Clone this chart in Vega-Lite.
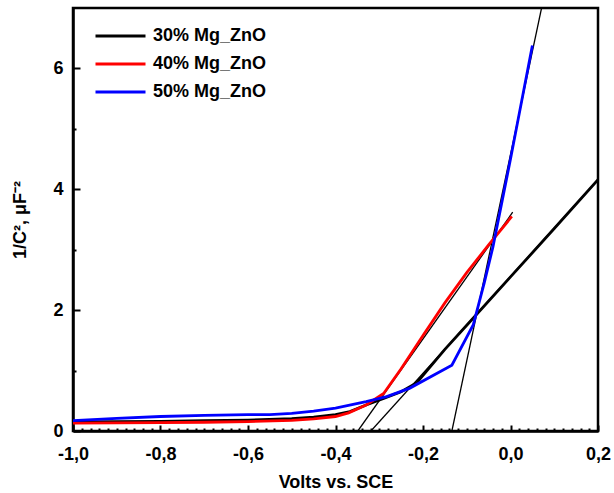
{
  "$schema": "https://vega.github.io/schema/vega-lite/v6.json",
  "width": 525,
  "height": 423,
  "autosize": {"type": "none"},
  "padding": {"left": 73, "top": 8, "right": 16, "bottom": 62},
  "background": "white",
  "config": {
    "view": {"stroke": "black", "strokeWidth": 2.5},
    "font": "Liberation Sans"
  },
  "datasets": {
    "curves": [
      {"s": "30% Mg_ZnO", "x": -1.0, "y": 0.15},
      {"s": "30% Mg_ZnO", "x": -0.9, "y": 0.155},
      {"s": "30% Mg_ZnO", "x": -0.8, "y": 0.16},
      {"s": "30% Mg_ZnO", "x": -0.7, "y": 0.17},
      {"s": "30% Mg_ZnO", "x": -0.6, "y": 0.18},
      {"s": "30% Mg_ZnO", "x": -0.5, "y": 0.205},
      {"s": "30% Mg_ZnO", "x": -0.45, "y": 0.23},
      {"s": "30% Mg_ZnO", "x": -0.4, "y": 0.27},
      {"s": "30% Mg_ZnO", "x": -0.367, "y": 0.32},
      {"s": "30% Mg_ZnO", "x": -0.33, "y": 0.43},
      {"s": "30% Mg_ZnO", "x": -0.29, "y": 0.54},
      {"s": "30% Mg_ZnO", "x": -0.25, "y": 0.65},
      {"s": "30% Mg_ZnO", "x": -0.214, "y": 0.8},
      {"s": "30% Mg_ZnO", "x": -0.15, "y": 1.35},
      {"s": "30% Mg_ZnO", "x": -0.1, "y": 1.75},
      {"s": "30% Mg_ZnO", "x": 0.0, "y": 2.55},
      {"s": "30% Mg_ZnO", "x": 0.1, "y": 3.35},
      {"s": "30% Mg_ZnO", "x": 0.2, "y": 4.16},
      {"s": "40% Mg_ZnO", "x": -1.0, "y": 0.13},
      {"s": "40% Mg_ZnO", "x": -0.9, "y": 0.135},
      {"s": "40% Mg_ZnO", "x": -0.8, "y": 0.14},
      {"s": "40% Mg_ZnO", "x": -0.7, "y": 0.145},
      {"s": "40% Mg_ZnO", "x": -0.6, "y": 0.155},
      {"s": "40% Mg_ZnO", "x": -0.5, "y": 0.175},
      {"s": "40% Mg_ZnO", "x": -0.45, "y": 0.2},
      {"s": "40% Mg_ZnO", "x": -0.4, "y": 0.24},
      {"s": "40% Mg_ZnO", "x": -0.37, "y": 0.3},
      {"s": "40% Mg_ZnO", "x": -0.33, "y": 0.43},
      {"s": "40% Mg_ZnO", "x": -0.29, "y": 0.62},
      {"s": "40% Mg_ZnO", "x": -0.25, "y": 1.03},
      {"s": "40% Mg_ZnO", "x": -0.2, "y": 1.58},
      {"s": "40% Mg_ZnO", "x": -0.15, "y": 2.12},
      {"s": "40% Mg_ZnO", "x": -0.1, "y": 2.62},
      {"s": "40% Mg_ZnO", "x": -0.05, "y": 3.08},
      {"s": "40% Mg_ZnO", "x": 0.003, "y": 3.55},
      {"s": "50% Mg_ZnO", "x": -1.0, "y": 0.17},
      {"s": "50% Mg_ZnO", "x": -0.9, "y": 0.21},
      {"s": "50% Mg_ZnO", "x": -0.8, "y": 0.24},
      {"s": "50% Mg_ZnO", "x": -0.7, "y": 0.26},
      {"s": "50% Mg_ZnO", "x": -0.6, "y": 0.27},
      {"s": "50% Mg_ZnO", "x": -0.55, "y": 0.27},
      {"s": "50% Mg_ZnO", "x": -0.5, "y": 0.29},
      {"s": "50% Mg_ZnO", "x": -0.45, "y": 0.33},
      {"s": "50% Mg_ZnO", "x": -0.4, "y": 0.38},
      {"s": "50% Mg_ZnO", "x": -0.33, "y": 0.485},
      {"s": "50% Mg_ZnO", "x": -0.283, "y": 0.57},
      {"s": "50% Mg_ZnO", "x": -0.23, "y": 0.71},
      {"s": "50% Mg_ZnO", "x": -0.134, "y": 1.09},
      {"s": "50% Mg_ZnO", "x": -0.085, "y": 1.76},
      {"s": "50% Mg_ZnO", "x": -0.06, "y": 2.45},
      {"s": "50% Mg_ZnO", "x": -0.04, "y": 3.05},
      {"s": "50% Mg_ZnO", "x": 0.0, "y": 4.5},
      {"s": "50% Mg_ZnO", "x": 0.05, "y": 6.38}
    ],
    "fits": [
      {"f": "a", "x": -0.319, "y": 0},
      {"f": "a", "x": 0.2, "y": 4.16},
      {"f": "b", "x": -0.349, "y": 0},
      {"f": "b", "x": 0.005, "y": 3.62},
      {"f": "c", "x": -0.134, "y": 0},
      {"f": "c", "x": 0.071, "y": 7}
    ]
  },
  "resolve": {"axis": {"x": "independent", "y": "independent"}},
  "layer": [
    {
      "data": {"name": "fits"},
      "mark": {"type": "line", "color": "black", "strokeWidth": 1.3, "clip": true},
      "encoding": {
        "x": {
          "field": "x", "type": "quantitative",
          "scale": {"domain": [-1.0, 0.2], "nice": false, "zero": false},
          "axis": {
            "orient": "bottom",
            "values": [-1.0, -0.8, -0.6, -0.4, -0.2, 0.0, 0.2],
            "labelExpr": "replace(replace(format(datum.value, '.1f'), '.', ','), '−', '-')",
            "ticks": true,
            "tickSize": -6,
            "tickWidth": 2,
            "tickColor": "black",
            "grid": false,
            "domainColor": "black",
            "domainWidth": 2.5,
            "labelFont": "Liberation Sans",
            "labelFontWeight": "bold",
            "labelFontSize": 18,
            "labelColor": "black",
            "labelPadding": 20,
            "labelFlush": false,
            "labelOverlap": false,
            "title": "Volts vs. SCE",
            "titleFont": "Liberation Sans",
            "titleFontWeight": "bold",
            "titleFontSize": 18,
            "titleColor": "black",
            "titleY": 51,
            "titleBaseline": "middle"
          }
        },
        "y": {
          "field": "y", "type": "quantitative",
          "scale": {"domain": [0, 7], "nice": false},
          "axis": {
            "orient": "left",
            "values": [0, 2, 4, 6],
            "labelExpr": "format(datum.value, 'd')",
            "ticks": true,
            "tickSize": -7,
            "tickWidth": 2,
            "tickColor": "black",
            "grid": false,
            "domainColor": "black",
            "domainWidth": 2.5,
            "labelFont": "Liberation Sans",
            "labelFontWeight": "bold",
            "labelFontSize": 18,
            "labelColor": "black",
            "labelPadding": 17,
            "labelOverlap": false,
            "title": "1/C², μF⁻²",
            "titleFont": "Liberation Sans",
            "titleFontWeight": "bold",
            "titleFontSize": 18,
            "titleColor": "black",
            "titleX": -53,
            "titleBaseline": "middle"
          }
        },
        "detail": {"field": "f"}
      }
    },
    {
      "data": {"name": "curves"},
      "mark": {"type": "line", "strokeWidth": 2.8, "clip": true},
      "encoding": {
        "x": {
          "field": "x", "type": "quantitative",
          "axis": {
            "orient": "top",
            "offset": -423,
            "values": [-0.98,-0.96,-0.94,-0.92,-0.9,-0.88,-0.86,-0.84,-0.82,-0.78,-0.76,-0.74,-0.72,-0.7,-0.68,-0.66,-0.64,-0.62,-0.58,-0.56,-0.54,-0.52,-0.5,-0.48,-0.46,-0.44,-0.42,-0.38,-0.36,-0.34,-0.32,-0.3,-0.28,-0.26,-0.24,-0.22,-0.18,-0.16,-0.14,-0.12,-0.1,-0.08,-0.06,-0.04,-0.02,0.02,0.04,0.06,0.08,0.1,0.12,0.14,0.16,0.18],
            "labels": false,
            "domain": false,
            "grid": false,
            "ticks": true,
            "tickSize": 3,
            "tickWidth": 2,
            "tickColor": "black",
            "title": null
          }
        },
        "y": {
          "field": "y", "type": "quantitative",
          "axis": {
            "orient": "right",
            "offset": -525,
            "values": [1, 3, 5],
            "labels": false,
            "domain": false,
            "grid": false,
            "ticks": true,
            "tickSize": 3,
            "tickWidth": 2,
            "tickColor": "black",
            "title": null
          }
        },
        "color": {
          "field": "s", "type": "nominal",
          "scale": {"domain": ["30% Mg_ZnO", "40% Mg_ZnO", "50% Mg_ZnO"], "range": ["#000000", "#ff0000", "#0000ff"]},
          "legend": {
            "orient": "none",
            "legendX": 21,
            "legendY": 14,
            "title": null,
            "padding": 0,
            "symbolType": "stroke",
            "symbolSize": 2500,
            "symbolStrokeWidth": 3,
            "clipHeight": 28,
            "labelFont": "Liberation Sans",
            "labelFontWeight": "bold",
            "labelFontSize": 18,
            "labelColor": "black",
            "labelOffset": 6,
            "rowPadding": 0
          }
        }
      }
    }
  ]
}
